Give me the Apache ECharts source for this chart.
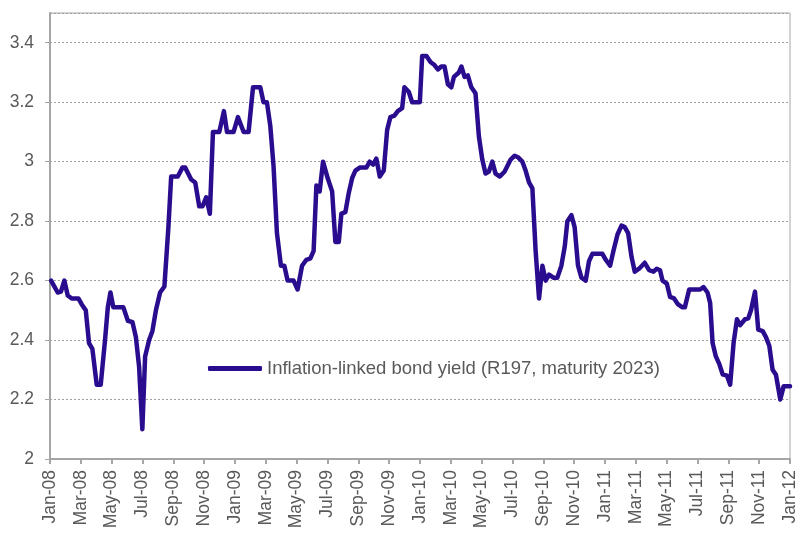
<!DOCTYPE html>
<html>
<head>
<meta charset="utf-8">
<script src="https://cdn.jsdelivr.net/npm/echarts@6/dist/echarts.min.js"></script>
<style>
html,body{margin:0;padding:0;background:#fff;}
#c{width:807px;height:534px;}
</style>
</head>
<body>
<div id="c"></div>
<script>
// x: months since 1 Jan 2008 (decimal)
const months = [0.07,0.50,0.71,0.93,1.15,1.41,1.84,2.06,2.32,2.53,2.75,3.03,3.29,3.57,3.75,3.92,4.11,4.76,5.05,5.35,5.57,5.78,5.99,6.17,6.43,6.64,6.87,7.14,7.42,7.68,7.86,8.29,8.59,8.77,9.16,9.42,9.68,9.89,10.13,10.37,10.57,10.98,11.28,11.48,11.91,12.19,12.56,12.88,13.17,13.64,13.85,14.07,14.29,14.50,14.72,14.98,15.20,15.41,15.80,16.06,16.35,16.63,16.89,17.10,17.28,17.49,17.71,18.01,18.30,18.51,18.73,18.90,19.16,19.38,19.60,19.81,20.09,20.52,20.74,20.96,21.17,21.39,21.65,21.87,22.08,22.34,22.56,22.84,22.99,23.27,23.49,23.99,24.14,24.42,24.68,24.94,25.16,25.38,25.59,25.81,26.03,26.20,26.52,26.69,26.89,27.10,27.33,27.60,27.82,28.04,28.25,28.47,28.69,28.90,29.18,29.49,29.88,30.14,30.35,30.64,30.85,31.07,31.29,31.50,31.72,31.94,32.15,32.37,32.65,32.91,33.17,33.39,33.56,33.82,34.03,34.25,34.47,34.75,34.96,35.18,35.83,36.05,36.33,36.55,36.81,37.07,37.28,37.50,37.72,37.93,38.21,38.58,38.86,39.15,39.36,39.57,39.73,40.01,40.22,40.48,40.74,41.03,41.18,41.46,41.68,42.17,42.39,42.65,42.82,42.98,43.19,43.41,43.63,43.91,44.12,44.34,44.56,44.77,45.08,45.29,45.47,45.73,45.94,46.23,46.44,46.66,46.87,47.09,47.37,47.59,48.00];
const yields = [2.60,2.56,2.563,2.60,2.55,2.54,2.54,2.52,2.50,2.39,2.37,2.25,2.25,2.40,2.51,2.56,2.51,2.51,2.465,2.46,2.41,2.31,2.10,2.345,2.40,2.43,2.50,2.56,2.58,2.78,2.95,2.95,2.98,2.98,2.94,2.93,2.85,2.85,2.88,2.825,3.10,3.10,3.17,3.10,3.10,3.15,3.10,3.10,3.25,3.25,3.20,3.20,3.12,2.985,2.76,2.65,2.65,2.60,2.60,2.57,2.65,2.67,2.675,2.70,2.92,2.90,3.00,2.945,2.90,2.73,2.73,2.825,2.83,2.895,2.945,2.97,2.98,2.98,3.00,2.99,3.01,2.95,2.97,3.107,3.15,3.155,3.17,3.18,3.25,3.235,3.20,3.20,3.355,3.355,3.335,3.325,3.31,3.32,3.32,3.26,3.25,3.285,3.30,3.32,3.285,3.29,3.25,3.23,3.085,3.007,2.96,2.967,3.00,2.96,2.95,2.967,3.007,3.02,3.015,3.00,2.97,2.93,2.91,2.70,2.54,2.65,2.60,2.62,2.61,2.61,2.65,2.715,2.80,2.82,2.78,2.65,2.61,2.60,2.665,2.69,2.69,2.67,2.65,2.70,2.755,2.785,2.78,2.76,2.68,2.63,2.64,2.66,2.635,2.63,2.64,2.635,2.60,2.59,2.545,2.54,2.52,2.51,2.51,2.57,2.57,2.57,2.578,2.56,2.525,2.39,2.345,2.32,2.285,2.28,2.25,2.39,2.47,2.45,2.47,2.473,2.50,2.563,2.435,2.43,2.41,2.38,2.30,2.283,2.20,2.245,2.245];
const tickLabels = ['Jan-08','Mar-08','May-08','Jul-08','Sep-08','Nov-08','Jan-09','Mar-09','May-09','Jul-09','Sep-09','Nov-09','Jan-10','Mar-10','May-10','Jul-10','Sep-10','Nov-10','Jan-11','Mar-11','May-11','Jul-11','Sep-11','Nov-11','Jan-12'];
const seriesName = 'Inflation-linked bond yield (R197, maturity 2023)';

const chart = echarts.init(document.getElementById('c'), null, {renderer:'canvas'});
const font = 'Liberation Sans, Arial, sans-serif';
const axisGray = '#a6a6a6';
const textGray = '#595959';
chart.setOption({
  animation:false,
  backgroundColor:'#ffffff',
  textStyle:{fontFamily:font},
  grid:{left:50, top:13, right:17, bottom:75, show:true, borderColor:axisGray, borderWidth:1, backgroundColor:'transparent'},
  legend:{
    show:true, left:208, top:359, padding:0, data:[seriesName],
    icon:'roundRect', itemWidth:54, itemHeight:5, itemGap:5,
    textStyle:{fontFamily:font, fontSize:18.5, color:textGray}
  },
  xAxis:{
    type:'value', min:0, max:48, interval:2,
    axisLine:{show:true, lineStyle:{color:axisGray, width:2}},
    axisTick:{show:true, length:5, inside:false, lineStyle:{color:axisGray, width:2}},
    splitLine:{show:false},
    axisLabel:{
      rotate:90, margin:11, fontSize:17.5, color:textGray, fontFamily:font,
      formatter:function(v){ const i=Math.round(v/2); return tickLabels[i]||''; }
    }
  },
  yAxis:{
    type:'value', min:2, max:3.5, interval:0.2,
    axisLine:{show:true, lineStyle:{color:axisGray, width:2}},
    axisTick:{show:true, length:5, lineStyle:{color:axisGray, width:1}},
    splitLine:{show:true, lineStyle:{color:'#a0a0a0', type:[2,2], width:1}},
    axisLabel:{
      margin:16, fontSize:17.5, color:textGray, fontFamily:font, showMaxLabel:false,
      formatter:function(v){ if (Math.abs(v-3.5)<1e-6) return ''; return String(Math.round(v*10)/10); }
    }
  },
  series:[{
    name:seriesName, type:'line', showSymbol:false, symbol:'none',
    data: months.map((m,i)=>[m, yields[i]]),
    lineStyle:{color:'#2a0d8e', width:4.5, join:'round', cap:'round'},
    itemStyle:{color:'#2a0d8e'}
  }]
});
</script>
</body>
</html>
